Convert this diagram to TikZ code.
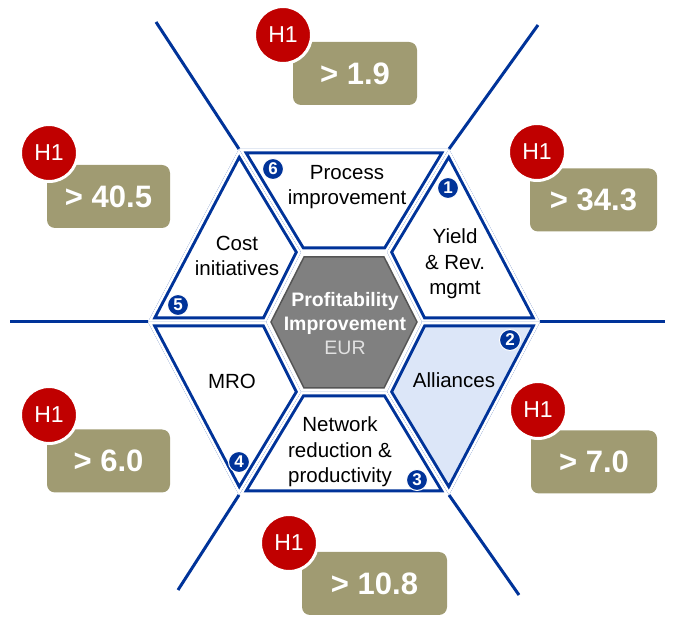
\documentclass[tikz,border=0pt]{standalone}
\usepackage{fontspec}
\setmainfont{Liberation Sans}
\definecolor{hexblue}{RGB}{0,51,153}
\definecolor{segblue}{RGB}{220,230,248}
\definecolor{boxolive}{RGB}{160,155,114}
\definecolor{hred}{RGB}{192,0,0}
\definecolor{hubgray}{RGB}{128,128,128}
\definecolor{hubedge}{RGB}{85,85,85}
\definecolor{eurgray}{RGB}{225,225,225}
\begin{document}
\begin{tikzpicture}[x=1pt,y=1pt,
    ray/.style={hexblue,line width=3pt},
    seglabel/.style={align=center,text=black,font=\fontsize{20.5}{25.5}\selectfont},
    hublabel/.style={align=center,text=white,font=\fontsize{19.5}{24}\selectfont},
    valbox/.style={fill=boxolive,rounded corners=8pt,minimum height=63pt,inner sep=0pt,
      text=white,font=\fontsize{31}{32}\selectfont\bfseries},
    hbadge/.style={circle,fill=hred,draw=white,line width=3pt,minimum size=57pt,inner sep=0pt,
      text=white,font=\fontsize{23}{24}\selectfont},
    numbadge/.style={circle,fill=hexblue,draw=white,line width=1pt,minimum size=21pt,inner sep=0pt,
      text=white,font=\fontsize{17}{17}\selectfont\bfseries}]
  \useasboundingbox (0,0) rectangle (673,-620);
  % Outer and inner corners
  \coordinate (o1) at (148,-322);
  \coordinate (o2) at (239,-149);
  \coordinate (o3) at (449,-149);
  \coordinate (o4) at (540,-322);
  \coordinate (o5) at (449,-495);
  \coordinate (o6) at (239,-495);
  \coordinate (m1) at (266,-322);
  \coordinate (m2) at (301,-252);
  \coordinate (m3) at (387,-252);
  \coordinate (m4) at (422,-322);
  \coordinate (m5) at (387,-392);
  \coordinate (m6) at (301,-392);
  % Rays
  \coordinate (e1) at (10,-322);
  \coordinate (e2) at (156,-22);
  \coordinate (e3) at (538,-25);
  \coordinate (e4) at (665,-322);
  \coordinate (e5) at (519,-595);
  \coordinate (e6) at (178,-590);
  \foreach \i in {1,...,6}
    \draw[ray] (o\i) -- (e\i);
  % Segments
  \foreach \a/\b/\col in {1/2/white,2/3/white,3/4/white,4/5/segblue,5/6/white,6/1/white} {
    \begin{scope}
      \clip (o\a) -- (o\b) -- (m\b) -- (m\a) -- cycle;
      \fill[\col] (o\a) -- (o\b) -- (m\b) -- (m\a) -- cycle;
      \draw[hexblue,line width=11pt] (o\a) -- (o\b) -- (m\b) -- (m\a) -- cycle;
      \draw[white,line width=5pt] (o\a) -- (o\b) -- (m\b) -- (m\a) -- cycle;
    \end{scope}
  }
  % Hub
  \filldraw[fill=hubgray,draw=hubedge,line width=1.5pt]
    (271,-322) -- (304,-257) -- (384,-257) -- (417,-322) -- (384,-388) -- (304,-388) -- cycle;
  \node[hublabel] (hub) at (345,-324)
    {\textbf{Profitability}\\\textbf{Improvement}\\\textcolor{eurgray}{EUR}};
  % Labels
  \node[seglabel] (proc) at (347,-187) {Process\\improvement};
  \node[seglabel] (yield) at (455,-264) {Yield\\\& Rev.\\mgmt};
  \node[seglabel] (cost) at (237,-256) {Cost\\initiatives};
  \node[seglabel] (mro) at (232,-381) {MRO};
  \node[seglabel] (alli) at (454,-380) {Alliances};
  \node[seglabel] (netw) at (340,-452) {Network\\reduction \&\\productivity};
  % Numbers
  \node[numbadge] (n1) at (448,-188) {1};
  \node[numbadge] (n2) at (510,-340) {2};
  \node[numbadge] (n3) at (417,-480) {3};
  \node[numbadge] (n4) at (239,-462) {4};
  \node[numbadge] (n5) at (178,-305) {5};
  \node[numbadge] (n6) at (273,-169) {6};
  % Values
  \node[valbox,minimum width=124pt] (val6) at (355,-73.5) {> 1.9};
  \node[valbox,minimum width=123pt] (val5) at (108.5,-196.5) {> 40.5};
  \node[valbox,minimum width=127pt] (val1) at (593.5,-200) {> 34.3};
  \node[valbox,minimum width=123pt] (val4) at (108.5,-461) {> 6.0};
  \node[valbox,minimum width=126pt] (val2) at (594,-462) {> 7.0};
  \node[valbox,minimum width=145pt] (val3) at (374.5,-583.5) {> 10.8};
  \node[hbadge] (h6) at (283,-35) {H1};
  \node[hbadge] (h5) at (49,-153) {H1};
  \node[hbadge] (h1) at (537,-152) {H1};
  \node[hbadge] (h4) at (49,-415) {H1};
  \node[hbadge] (h2) at (538,-410) {H1};
  \node[hbadge] (h3) at (289,-543) {H1};
\end{tikzpicture}
\end{document}
